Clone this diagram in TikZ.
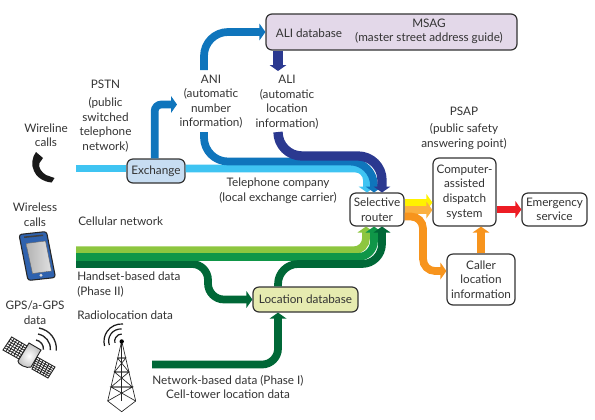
\documentclass[tikz,border=0pt]{standalone}
\usepackage{fontspec}
\setmainfont{Lato}
\usetikzlibrary{arrows.meta,calc}

\definecolor{skyband}{HTML}{3FC4F2}
\definecolor{blueband}{HTML}{0F75BC}
\definecolor{navyband}{HTML}{2B3990}
\definecolor{limeband}{HTML}{8DC63F}
\definecolor{greenband}{HTML}{0F9648}
\definecolor{pineband}{HTML}{006837}
\definecolor{yellowband}{HTML}{FFF200}
\definecolor{peachband}{HTML}{FBB040}
\definecolor{orangeband}{HTML}{F7941D}
\definecolor{redband}{HTML}{ED1C24}
\definecolor{inkgray}{HTML}{333333}
\definecolor{exchangefill}{HTML}{C7DDF2}
\definecolor{aliboxfill}{HTML}{E3D8E9}
\definecolor{locationfill}{HTML}{E6EBB0}
\definecolor{handsetblue}{HTML}{2F62AE}

\tikzset{
	label text/.style={text=inkgray, align=center, inner sep=0pt, font=\fontsize{8.8}{10.9}\selectfont},
	box/.style={label text, draw=inkgray, line width=0.9pt, rounded corners=4.5pt, fill=white},
	flow/.style={line width=5.8pt},
	flow tip/.style={flow, -{Triangle[width=12.5pt,length=4.5pt]}},
}

\begin{document}
\begin{tikzpicture}[x=0.75pt, y=-0.75pt]
	\useasboundingbox (0,0) rectangle (595,419);
	
	% 1. Khung
	\node (exchange) at (156,171) [box, fill=exchangefill, minimum width=43.5pt, minimum height=18pt] {Exchange};
	\node (aliBox) at (391.5,32) [box, fill=aliboxfill, minimum width=188.25pt, minimum height=27pt] {};
	\node (router) at (377,209.5) [box, minimum width=40.5pt, minimum height=24.75pt] {Selective\\router};
	\node (dispatch) at (464.5,192) [box, minimum width=47.25pt, minimum height=51pt] {Computer-\\assisted\\dispatch\\system};
	\node (emergency) at (554.5,209.5) [box, minimum width=48.75pt, minimum height=24.75pt] {Emergency\\service};
	\node (caller) at (481,279.5) [box, minimum width=51pt, minimum height=38.25pt] {Caller\\location\\information};
	\node (locationDb) at (305.5,299.5) [box, fill=locationfill, minimum width=78.75pt, minimum height=18.75pt] {Location database};
	
	% 2. Chu
	\node (aliDbText) at (309,33) [label text] {ALI database};
	\node (msagText) at (429,31.5) [label text] {MSAG\\(master street address guide)};
	\node (wirelineText) at (46,135) [label text] {Wireline\\calls};
	\node (pstnText) at (105.5,116) [label text] {PSTN\\[3pt](public\\switched\\telephone\\network)};
	\node (aniText) at (211,101.5) [label text] {ANI\\(automatic\\number\\information)};
	\node (aliText) at (287,102) [label text] {ALI\\(automatic\\location\\information)};
	\node (psapText) at (464,128) [label text] {PSAP\\[2pt](public safety\\answering point)};
	\node (telcoText) at (278,191) [label text] {Telephone company\\(local exchange carrier)};
	\node (wirelessText) at (35,214.5) [label text] {Wireless\\calls};
	\node (cellularText) at (78,221) [label text, anchor=west] {Cellular network};
	\node (handsetText) at (77,284.5) [label text, anchor=west, align=left] {Handset-based data\\(Phase II)};
	\node (radioText) at (77,315) [label text, anchor=west] {Radiolocation data};
	\node (gpsText) at (35,312.5) [label text] {GPS/a-GPS\\data};
	\node (networkText) at (228,387) [label text] {Network-based data (Phase I)\\Cell-tower location data};
	
	% 3. Diem tu do
	\coordinate (wireStart) at (76,168.4);
	\coordinate (aniIn) at (177,104.5);
	\coordinate (aniUp) at (204,70);
	\coordinate (aniDown) at (204,132);
	\coordinate (aliDown) at (278,132);
	\coordinate (aliTip) at (278,71);
	\coordinate (routerSky) at (367,192.5);
	\coordinate (routerBlue) at (374,192.5);
	\coordinate (routerNavy) at (382,192.5);
	\coordinate (routerLime) at (366,226.5);
	\coordinate (routerGreen) at (374,226.5);
	\coordinate (routerPine) at (382,226.5);
	\coordinate (limeStart) at (76,250.3);
	\coordinate (greenStart) at (76,257);
	\coordinate (pineStart) at (76,264);
	\coordinate (towerStart) at (152,364.5);
	
	% 4. Mang dien thoai
	\draw[flow, skyband] (wireStart) -- (wireStart -| exchange.west);
	\draw[flow tip, skyband, rounded corners=9pt] (wireStart -| exchange.east) -| (routerSky);
	\draw[flow tip, blueband, rounded corners=5pt] ([xshift=-1pt]exchange.north) |- (aniIn);
	\draw[flow tip, blueband, rounded corners=18pt] (aniUp) |- (aliBox.west);
	\draw[flow tip, blueband, rounded corners=18pt] (aniDown) |- (routerBlue |- 0,161.5) -- (routerBlue);
	\draw[flow tip, navyband, line width=7.5pt] (aliBox.south -| aliTip) -- (aliTip);
	\draw[flow tip, navyband, line width=7pt, rounded corners=18pt] (aliDown) |- (routerNavy |- 0,156) -- (routerNavy);
	
	% 5. Mang di dong
	\draw[flow tip, limeband, rounded corners=9pt] (limeStart) -| (routerLime);
	\draw[flow tip, pineband, rounded corners=12pt] (pineStart) -- (208,264) |- (locationDb.west);
	\draw[flow tip, greenband, rounded corners=12pt] (greenStart) -| (routerGreen);
	\draw[flow tip, pineband, rounded corners=15pt] ([xshift=-20.6pt]locationDb.north) |- (routerPine |- 0,264) -- (routerPine);
	\draw[flow tip, pineband, rounded corners=12pt] (towerStart) -| ([xshift=-20.6pt]locationDb.south);
	
	% 6. Dau ra
	\draw[flow tip, yellowband] (router.east |- 0,202.5) -- (dispatch.west |- 0,202.5);
	\draw[flow tip, peachband] (router.east |- 0,210) -- (dispatch.west |- 0,210);
	\draw[flow tip, orangeband, rounded corners=9pt] (router.east |- 0,216.5) -- (423,216.5) -- (423,271) -- (caller.west |- 0,271);
	\draw[flow tip, orangeband] (caller.north) -- (caller.north |- dispatch.south);
	\draw[flow tip, redband] (dispatch.east |- 0,209.5) -- (emergency.west);
	
	% 7. Dien thoai ban
	\fill[black!90] (36,152) .. controls (32,157) and (31,165) .. (34,171) .. controls (36,177) and (44,182) .. (51.7,182.5) -- (54.5,178) -- (46,175) .. controls (41,172) and (38,167) .. (39.5,163) -- (43,158) -- cycle;
	
	% 8. Dien thoai di dong
	\draw[fill=handsetblue, draw=black!85, line width=0.8pt, rounded corners=2pt] (19,234.5) -- (46.5,231.5) -- (55.5,277.5) -- (28,280.5) -- cycle;
	\fill[black!75] (24,236.5) -- (43,234.5) -- (43.3,236) -- (24.3,238) -- cycle;
	\shade[left color=black!30, right color=black!12, draw=black!60, line width=0.3pt] (26,243.5) -- (45.5,241) -- (51.5,271) -- (32.5,273.5) -- cycle;
	\fill[black!15] (41,275.3) circle (1.6);
	
	% 9. Ve tinh
	\draw[fill=white, draw=black!85, line width=0.7pt] (11.7,337) -- (27,346) -- (19,359) -- (3,350) -- cycle;
	\draw[fill=white, draw=black!85, line width=0.7pt] (37,357) -- (55,367) -- (48,378) -- (32,369) -- cycle;
	\foreach \t in {0.17,0.33,0.5,0.67,0.83} {
		\draw[black!85, line width=0.6pt] ($(11.7,337)!\t!(27,346)$) -- ($(3,350)!\t!(19,359)$);
		\draw[black!85, line width=0.6pt] ($(11.7,337)!\t!(3,350)$) -- ($(27,346)!\t!(19,359)$);
		\draw[black!85, line width=0.6pt] ($(37,357)!\t!(55,367)$) -- ($(32,369)!\t!(48,378)$);
		\draw[black!85, line width=0.6pt] ($(37,357)!\t!(32,369)$) -- ($(55,367)!\t!(48,378)$);
	}
	\shade[inner color=white, outer color=black!25, draw=black!85, line width=0.7pt] (29,343) -- (41,350) -- (31,367) .. controls (27,369) and (17,364) .. (18,361) -- cycle;
	\draw[black!85, line width=1pt] (36,340) arc[start angle=-80, end angle=5, radius=9];
	\draw[black!85, line width=1pt] (38,334) arc[start angle=-80, end angle=5, radius=15];
	\draw[black!85, line width=1pt] (39,328) arc[start angle=-80, end angle=5, radius=21];
	
	% 10. Cot anten
	\foreach \b in {107.7, 121.7, 135.7} {
		\draw[black!85, line width=0.5pt] (121.7,341) -- (\b,401);
	}
	\draw[black!85, line width=0.5pt] (107.7,401) -- (121.7,411.7) -- (135.7,401);
	\draw[black!85, line width=0.5pt] (117.5,358) -- (125.9,358) -- (114.5,372) -- (128.9,372) -- (111,387) -- (132.4,387) -- (107.7,401);
	\draw[black!85, line width=0.5pt] (125.9,358) -- (117.5,358) -- (128.9,372) -- (114.5,372) -- (132.4,387) -- (111,387) -- (135.7,401);
	\fill[black] (121.7,341.5) circle (2.2);
	\draw[black!90, line width=0.9pt] (121.7,334) arc[start angle=-90, end angle=-195, radius=7];
	\draw[black!90, line width=0.9pt] (121.7,329) arc[start angle=-85, end angle=-200, radius=12];
	\draw[black!90, line width=0.9pt] (123,324) arc[start angle=-85, end angle=-195, radius=17.5];
\end{tikzpicture}
\end{document}
